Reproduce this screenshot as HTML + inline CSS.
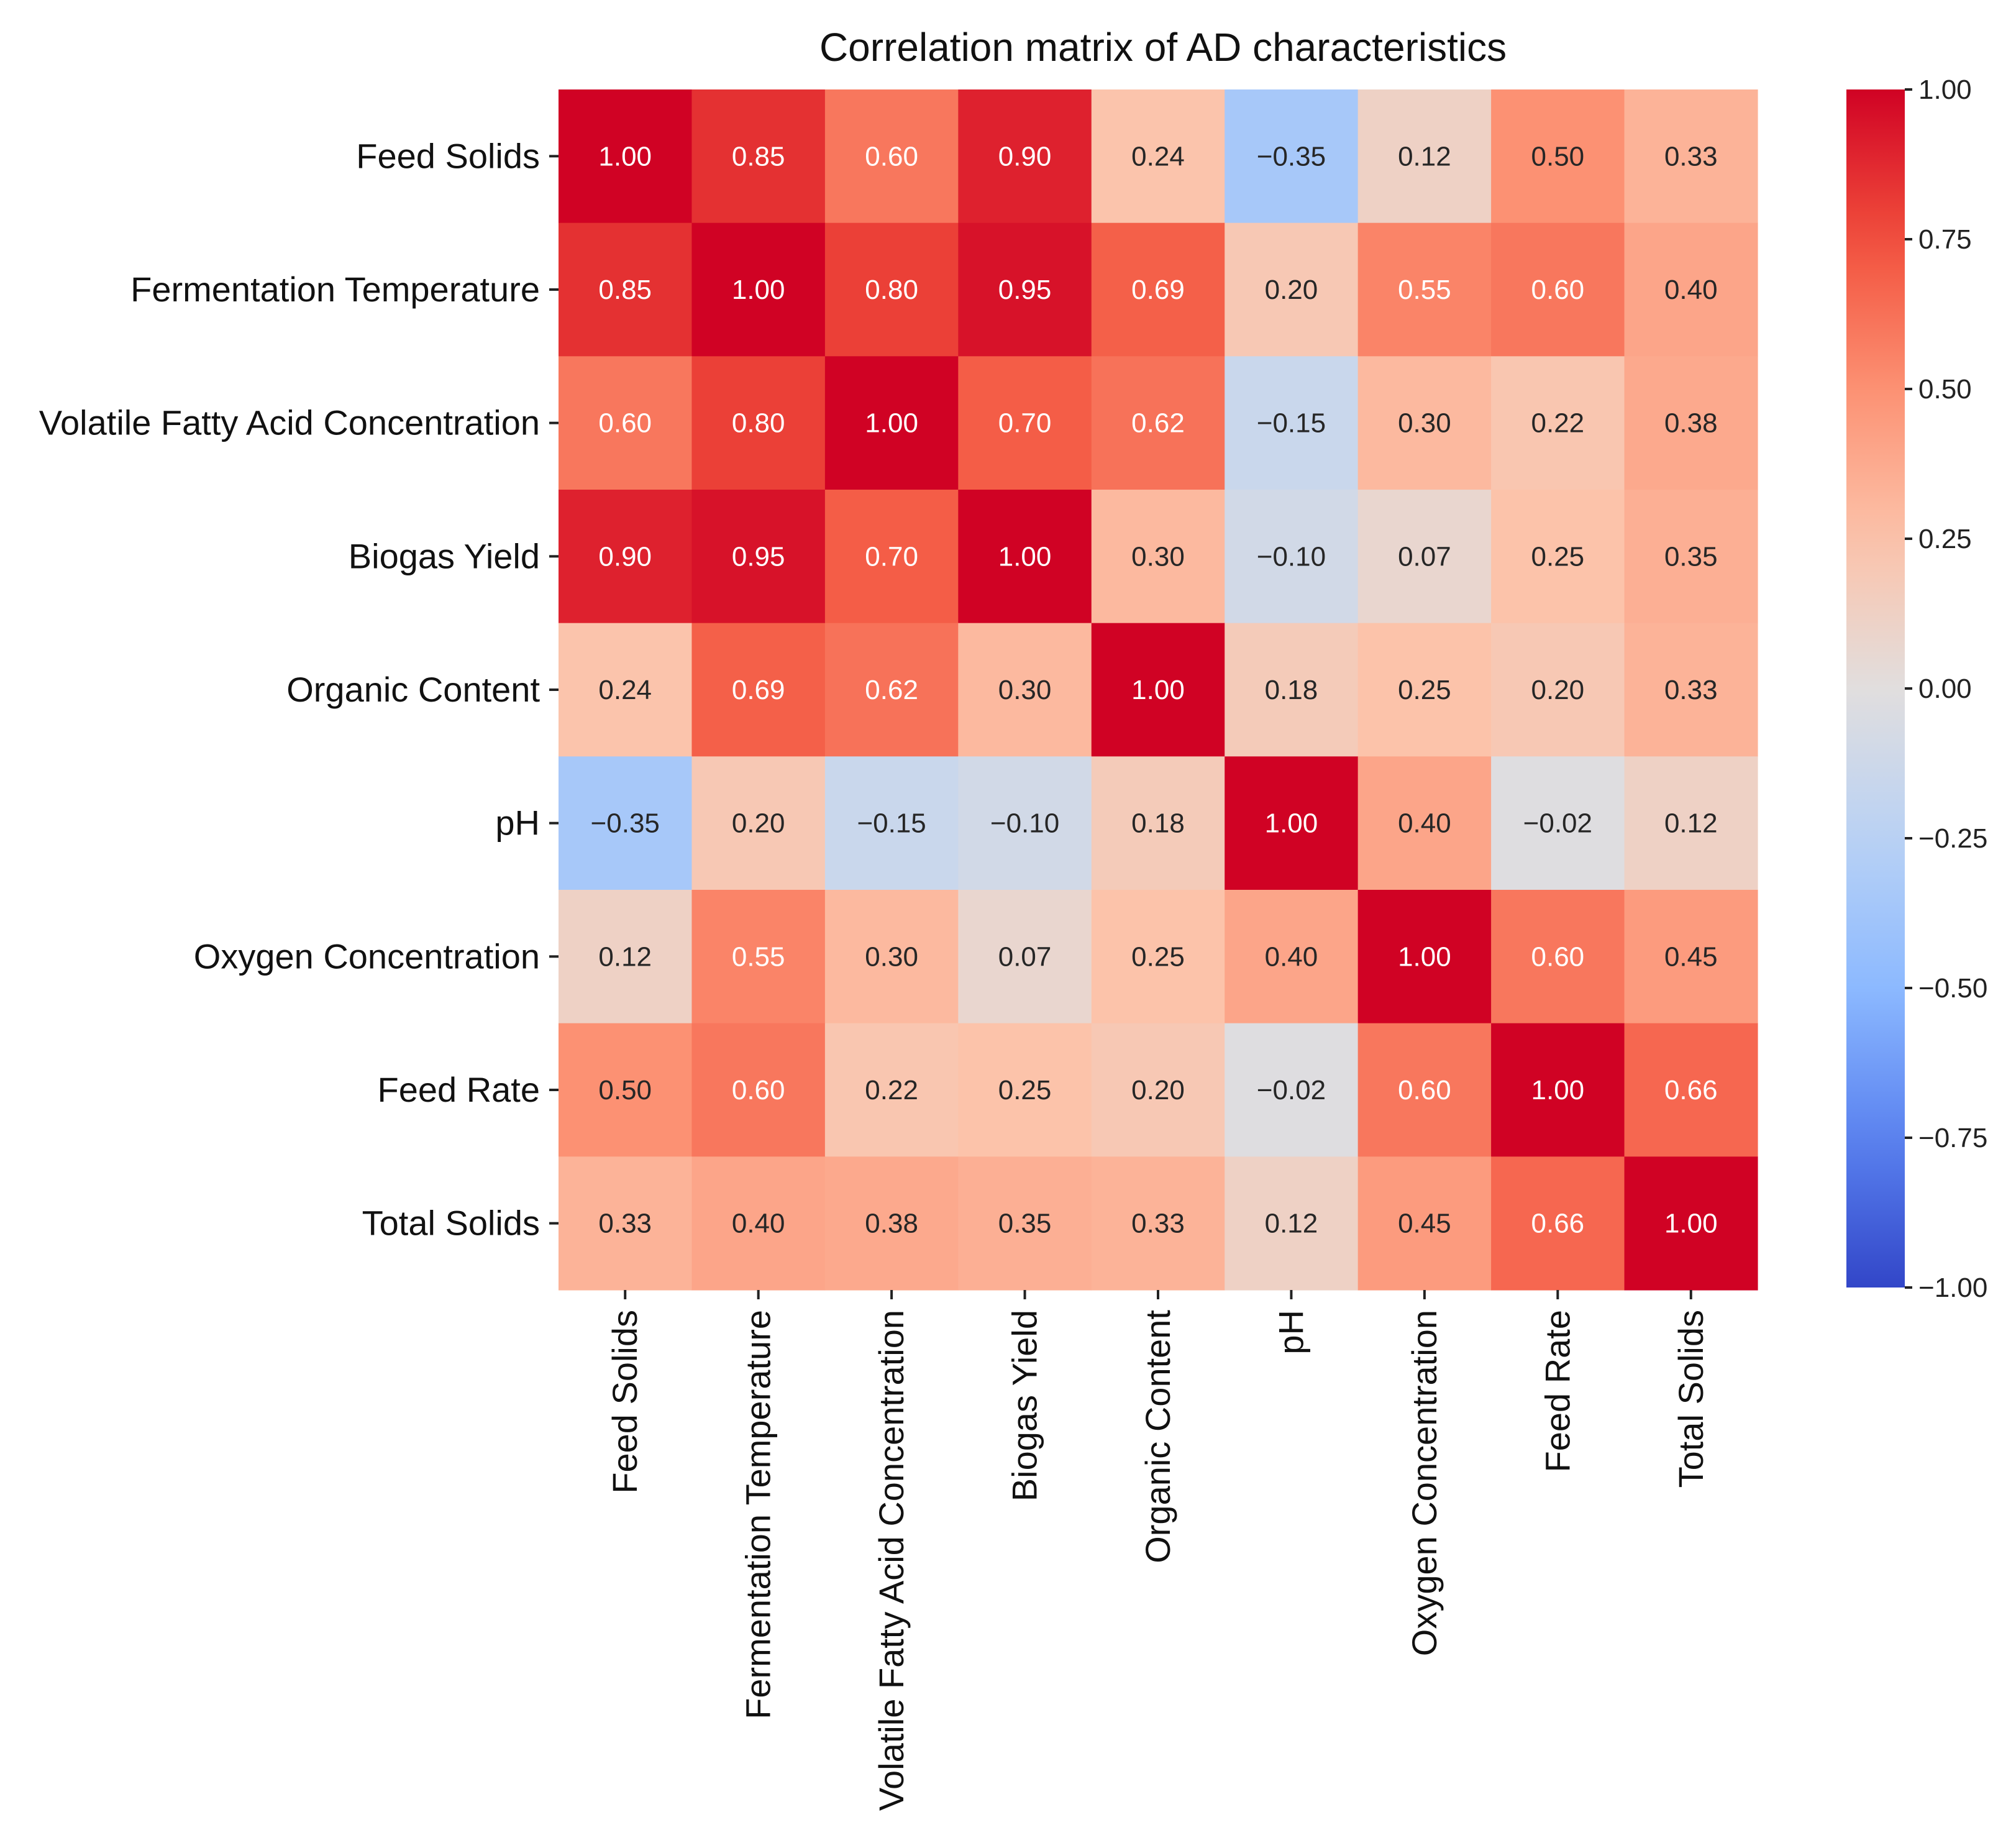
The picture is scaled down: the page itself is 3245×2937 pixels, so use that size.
<!DOCTYPE html>
<html><head><meta charset="utf-8"><style>
html,body{margin:0;padding:0;background:#fff;}
svg{display:block;font-family:"Liberation Sans",sans-serif;}
</style></head><body>
<svg id="chart" width="3245" height="2937" viewBox="0 0 3245 2937" xmlns="http://www.w3.org/2000/svg">
<text x="1872" y="98" font-size="64" text-anchor="middle" fill="#111">Correlation matrix of AD characteristics</text>
<defs><linearGradient id="cbg" x1="0" y1="1" x2="0" y2="0"></linearGradient></defs>
</svg>
<script>
const labels = ["Feed Solids","Fermentation Temperature","Volatile Fatty Acid Concentration","Biogas Yield","Organic Content","pH","Oxygen Concentration","Feed Rate","Total Solids"];
const row0 = [1.00,0.85,0.60,0.90,0.24,-0.35,0.12,0.50,0.33];
const row1 = [0.85,1.00,0.80,0.95,0.69,0.20,0.55,0.60,0.40];
const row2 = [0.60,0.80,1.00,0.70,0.62,-0.15,0.30,0.22,0.38];
const row3 = [0.90,0.95,0.70,1.00,0.30,-0.10,0.07,0.25,0.35];
const row4 = [0.24,0.69,0.62,0.30,1.00,0.18,0.25,0.20,0.33];
const row5 = [-0.35,0.20,-0.15,-0.10,0.18,1.00,0.40,-0.02,0.12];
const row6 = [0.12,0.55,0.30,0.07,0.25,0.40,1.00,0.60,0.45];
const row7 = [0.50,0.60,0.22,0.25,0.20,-0.02,0.60,1.00,0.66];
const row8 = [0.33,0.40,0.38,0.35,0.33,0.12,0.45,0.66,1.00];
const matrix = [row0,row1,row2,row3,row4,row5,row6,row7,row8];
const cbTicks = [1.00,0.75,0.50,0.25,0.00,-0.25,-0.50,-0.75,-1.00];

const NS="http://www.w3.org/2000/svg";
const svg=document.getElementById('chart');
const L=899,R=2829,T=144,B=2076;
const n=labels.length, cw=(R-L)/n, ch=(B-T)/n;
const xPos=i=>L+i*cw, yPos=i=>T+i*ch;
const stops=[[50,70,200],[90,130,240],[140,185,255],[185,210,245],[225,222,222],[252,195,170],[252,145,115],[242,80,60],[208,2,36]];
function cmap(v){let t=(v+1)/2;t=Math.max(0,Math.min(1,t));const p=t*(stops.length-1);const i=Math.min(stops.length-2,Math.floor(p));const f=p-i;const a=stops[i],b=stops[i+1];return `rgb(${a.map((c,k)=>Math.round(c+(b[k]-c)*f)).join(',')})`;}
function mk(tag,attrs){const e=document.createElementNS(NS,tag);for(const k in attrs)e.setAttribute(k,attrs[k]);svg.appendChild(e);return e;}
const fmt=v=>(v<0?'\u2212':'')+Math.abs(v).toFixed(2);

matrix.forEach((row,r)=>row.forEach((v,c)=>{
  const rect=mk('rect',{x:xPos(c),y:yPos(r),width:cw+0.6,height:ch+0.6,fill:cmap(v)});
  
  
  const t=mk('text',{x:xPos(c)+cw/2,y:yPos(r)+ch/2+15,'font-size':44,'text-anchor':'middle',fill:(v>=0.55||v<=-0.6)?'#fff':'#262626'});
  t.textContent=fmt(v);
  
  
}));

labels.forEach((lab,i)=>{
  const cy=yPos(i)+ch/2;
  const tk=mk('line',{x1:L-15,x2:L,y1:cy,y2:cy,stroke:'#222','stroke-width':4});
  
  
  const t=mk('text',{x:L-30,y:cy+19,'font-size':56,'text-anchor':'end',fill:'#111'});
  t.textContent=lab;
  
  
  const cx=xPos(i)+cw/2;
  const tk2=mk('line',{x1:cx,x2:cx,y1:B,y2:B+15,stroke:'#222','stroke-width':4});
  
  
  const t2=mk('text',{x:0,y:0,'font-size':56,'text-anchor':'end',fill:'#111',transform:`translate(${cx+19},${B+32}) rotate(-90)`});
  t2.textContent=lab;
  
  
});

// colorbar
const CL=2972,CR=3066,CT=144,CB=2072;
const grad=document.getElementById('cbg');
for(let k=0;k<=20;k++){const v=-1+k/10;const s=document.createElementNS(NS,'stop');s.setAttribute('offset',(k/20));s.setAttribute('stop-color',cmap(v));grad.appendChild(s);}
const cb=mk('rect',{x:CL,y:CT,width:CR-CL,height:CB-CT,fill:'url(#cbg)'});


const cbY=v=>CT+(1-v)/2*(CB-CT);
cbTicks.forEach(v=>{
  const y=cbY(v);
  const tk=mk('line',{x1:CR,x2:CR+12,y1:y,y2:y,stroke:'#222','stroke-width':4});
  
  
  const t=mk('text',{x:CR+22,y:y+15,'font-size':44,fill:'#222'});
  t.textContent=fmt(v);
  
  
});
</script>
</body></html>
